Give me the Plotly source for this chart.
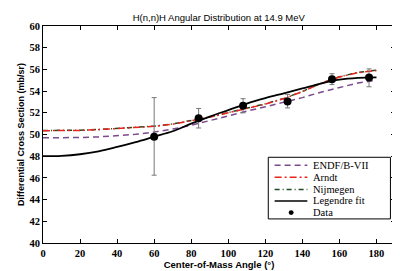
import plotly.graph_objects as go

# angles (deg) for the curves
angle = [0, 10, 20, 30, 40, 50, 60, 70, 80, 90, 100, 110, 120, 130, 140, 150, 160, 170, 180]

endf = [49.70, 49.70, 49.72, 49.78, 49.88, 50.02, 50.22, 50.50, 50.85, 51.30, 51.75, 52.15,
        52.55, 52.95, 53.40, 53.90, 54.35, 54.75, 55.00]
arndt = [50.35, 50.35, 50.38, 50.45, 50.55, 50.65, 50.75, 50.95, 51.25, 51.60, 52.00, 52.40,
         52.80, 53.30, 53.95, 54.70, 55.30, 55.70, 55.90]
nijmegen = [50.37, 50.37, 50.40, 50.46, 50.56, 50.66, 50.77, 50.97, 51.27, 51.62, 52.02, 52.42,
            52.83, 53.33, 53.97, 54.72, 55.32, 55.72, 55.93]
legendre = [48.00, 48.03, 48.18, 48.45, 48.85, 49.30, 49.80, 50.30, 51.00, 51.65, 52.25, 52.85,
            53.35, 53.80, 54.25, 54.70, 55.05, 55.22, 55.27]

# measured points
data_angle = [60, 84, 108, 132, 156, 176]
data_xs = [49.8, 51.5, 52.65, 53.05, 55.1, 55.25]
err_plus = [3.6, 0.9, 0.65, 0.65, 0.5, 0.8]
err_minus = [3.55, 0.9, 0.65, 0.6, 0.5, 0.85]

fig = go.Figure()
fig.add_trace(go.Scatter(x=angle, y=endf, mode="lines", name="ENDF/B-VII",
                         line=dict(color="#7b4a8c", width=1.5, dash="6px,4px")))
fig.add_trace(go.Scatter(x=angle, y=nijmegen, mode="lines", name="Nijmegen",
                         line=dict(color="#1f4a26", width=1.5, dash="5px,3px,1px,3px")))
fig.add_trace(go.Scatter(x=angle, y=arndt, mode="lines", name="Arndt",
                         line=dict(color="#e8241c", width=1.5, dash="7px,3px,2px,3px")))
fig.add_trace(go.Scatter(x=angle, y=legendre, mode="lines", name="Legendre fit",
                         line=dict(color="black", width=1.8), line_shape="spline"))
fig.add_trace(go.Scatter(x=data_angle, y=data_xs, mode="markers", name="Data",
                         marker=dict(color="black", size=8),
                         error_y=dict(type="data", array=err_plus, arrayminus=err_minus,
                                      color="#777777", thickness=1, width=2.5)))

# hand-drawn legend box (plotly's own legend rows are too tall for this size)
L = dict(t=18, b=25, l=34, r=12)
fig.add_shape(type="rect", xref="paper", yref="paper", x0=0.640, x1=0.987, y0=0.111, y1=0.395,
              line=dict(color="black", width=1), fillcolor="white", layer="above")
rows = [0.358, 0.303, 0.246, 0.194, 0.140]
styles = [("ENDF/B-VII", "#7b4a8c", "6px,4px"),
          ("Arndt", "#e8241c", "7px,3px,2px,3px"),
          ("Nijmegen", "#1f4a26", "5px,3px,1px,3px"),
          ("Legendre fit", "black", "solid")]
for yy, (name, col, dash) in zip(rows, styles):
    fig.add_shape(type="line", xref="paper", yref="paper", x0=0.658, x1=0.751, y0=yy, y1=yy,
                  line=dict(color=col, width=1.5, dash=dash), layer="above")
    fig.add_annotation(text=name, xref="paper", yref="paper", x=0.762, y=yy, showarrow=False,
                       xanchor="left", yanchor="middle",
                       font=dict(family="Liberation Serif", size=10.5, color="black"))
fig.add_shape(type="circle", xref="paper", yref="paper", x0=0.698, x1=0.712,
              y0=rows[4] - 0.011, y1=rows[4] + 0.011, fillcolor="black",
              line=dict(color="black", width=0), layer="above")
fig.add_annotation(text="Data", xref="paper", yref="paper", x=0.762, y=rows[4], showarrow=False,
                   xanchor="left", yanchor="middle",
                   font=dict(family="Liberation Serif", size=10.5, color="black"))

axis_common = dict(showline=True, linecolor="black", linewidth=1, mirror="ticks",
                   ticks="inside", ticklen=4, tickcolor="black", showgrid=False, zeroline=False,
                   tickfont=dict(family="Liberation Serif", size=10.5, color="black", weight="bold"))
fig.update_xaxes(range=[0, 190], tickvals=list(range(0, 181, 20)),
                 title=dict(text="Center-of-Mass Angle (°)", standoff=2,
                            font=dict(family="Liberation Sans", size=9.5, color="black",
                                      weight="bold")),
                 **axis_common)
fig.update_yaxes(range=[40, 60], dtick=2,
                 title=dict(text="Differential Cross Section (mb/sr)", standoff=3,
                            font=dict(family="Liberation Sans", size=9, color="black",
                                      weight="bold")),
                 **axis_common)
fig.update_layout(
    width=400, height=271, margin=L, showlegend=False,
    paper_bgcolor="white", plot_bgcolor="white",
    title=dict(text="H(n,n)H Angular Distribution at 14.9 MeV", x=0.527, xanchor="center",
               y=0.965, yanchor="middle",
               font=dict(family="Liberation Sans", size=9.5, color="black")),
)
fig.write_html("out.html")
